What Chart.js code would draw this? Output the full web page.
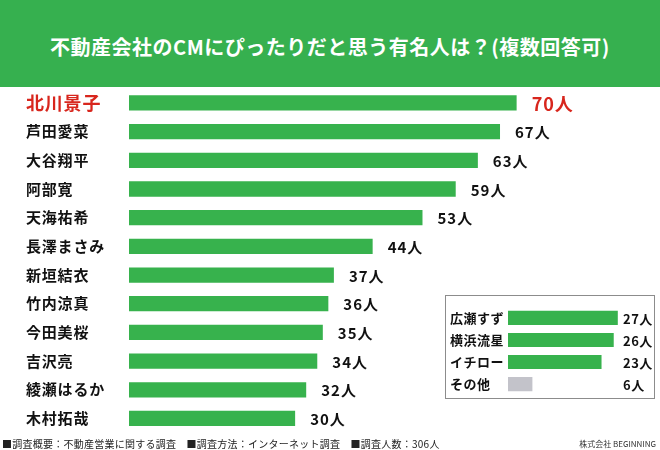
<!DOCTYPE html>
<html>
<head>
<meta charset="utf-8">
<script src="https://cdn.jsdelivr.net/npm/chart.js@4.4.1/dist/chart.umd.min.js"></script>
<style>
  body { margin: 0; width: 660px; height: 450px; background: #fff; position: relative; overflow: hidden;
         font-family: "Noto Sans CJK JP", "Noto Sans", sans-serif; }
  #header { position: absolute; left: 0; top: 0; width: 660px; height: 87px; background: #36b04f;
            color: #fff; font-weight: bold; font-size: 20px; letter-spacing: 0.5px; text-align: center; line-height: 94px; }
  #main { position: absolute; left: 0; top: 0; }
  #insetBox { position: absolute; left: 445px; top: 295px; width: 208px; height: 102px; border: 1px solid #8c8c8c; background: #fff; }
  #inset { position: absolute; left: 446px; top: 296px; }
  #foot { position: absolute; left: 2px; top: 436px; font-size: 10px; letter-spacing: 0.25px; color: #222; white-space: pre; }
  #company { position: absolute; right: 4px; top: 438px; font-size: 8px; color: #333; }
</style>
</head>
<body>
<div id="header">不動産会社のCMにぴったりだと思う有名人は？(複数回答可)</div>
<canvas id="main" width="660" height="450"></canvas>
<div id="insetBox"></div>
<canvas id="inset" width="208" height="110"></canvas>
<div id="foot">■調査概要：不動産営業に関する調査　■調査方法：インターネット調査　■調査人数：306人</div>
<div id="company">株式会社 BEGINNING</div>
<script>
// main ranking
const names = ['北川景子', '芦田愛菜', '大谷翔平', '阿部寛', '天海祐希', '長澤まさみ',
               '新垣結衣', '竹内涼真', '今田美桜', '吉沢亮', '綾瀬はるか', '木村拓哉'];
const votes = [70, 67, 63, 59, 53, 44, 37, 36, 35, 34, 32, 30];

// inset box
const otherNames = ['広瀬すず', '横浜流星', 'イチロー', 'その他'];
const otherVotes = [27, 26, 23, 6];

const FONT = '"Noto Sans CJK JP", "Noto Sans", sans-serif';
const GREEN = '#37b24d';
const RED = '#d8261d';

// a little letter spacing for the axis labels, like the original
const spacing = {
  id: 'spacing',
  beforeDraw(chart, args, opts) {
    chart.ctx.letterSpacing = opts.value || '0px';
  }
};

// draws "NN人" next to each bar
const valueLabels = {
  id: 'valueLabels',
  afterDatasetsDraw(chart, args, opts) {
    const ctx = chart.ctx;
    const meta = chart.getDatasetMeta(0);
    ctx.save();
    ctx.textBaseline = 'middle';
    ctx.textAlign = 'left';
    ctx.letterSpacing = opts.spacing || '0px';
    meta.data.forEach((bar, i) => {
      const big = opts.highlightFirst && i === 0;
      ctx.font = 'bold ' + (big ? opts.bigSize : opts.size) + 'px ' + FONT;
      ctx.fillStyle = big ? RED : '#111';
      const x = opts.fixedX != null ? opts.fixedX : bar.x + opts.offset;
      ctx.fillText(chart.data.datasets[0].data[i] + '人', x, bar.y + 1);
    });
    ctx.restore();
  }
};

new Chart(document.getElementById('main'), {
  type: 'bar',
  data: {
    labels: names,
    datasets: [{
      data: votes,
      backgroundColor: GREEN,
      barPercentage: 0.74,
      categoryPercentage: 0.72
    }]
  },
  options: {
    indexAxis: 'y',
    responsive: false,
    animation: false,
    layout: { padding: { left: 26, top: 88.6, bottom: 17.2, right: 88 } },
    plugins: {
      legend: { display: false },
      tooltip: { enabled: false },
      spacing: { value: '0.8px' },
      valueLabels: { size: 15, bigSize: 18, offset: 15, highlightFirst: true, spacing: '1px' }
    },
    scales: {
      x: { display: false, min: 0, max: 80 },
      y: {
        grid: { display: false },
        border: { display: false },
        afterFit(scale) { scale.width = 103; },
        ticks: {
          crossAlign: 'far',
          color: ctx => ctx.index === 0 ? RED : '#111',
          font: ctx => ({ family: FONT, weight: 'bold', size: ctx.index === 0 ? 18 : 15 })
        }
      }
    }
  },
  plugins: [spacing, valueLabels]
});

new Chart(document.getElementById('inset'), {
  type: 'bar',
  data: {
    labels: otherNames,
    datasets: [{
      data: otherVotes,
      backgroundColor: [GREEN, GREEN, GREEN, '#c3c3ca'],
      barPercentage: 0.8,
      categoryPercentage: 0.8
    }]
  },
  options: {
    indexAxis: 'y',
    responsive: false,
    animation: false,
    layout: { padding: { left: 4, top: 10.4, bottom: 6.4, right: 24 } },
    plugins: {
      legend: { display: false },
      tooltip: { enabled: false },
      spacing: { value: '0.5px' },
      valueLabels: { size: 13, fixedX: 177, spacing: '0.5px' }
    },
    scales: {
      x: { display: false, min: 0, max: 30 },
      y: {
        grid: { display: false },
        border: { display: false },
        afterFit(scale) { scale.width = 58; },
        ticks: {
          crossAlign: 'far',
          color: '#111',
          font: { family: FONT, weight: 'bold', size: 13 }
        }
      }
    }
  },
  plugins: [spacing, valueLabels]
});
</script>
</body>
</html>
